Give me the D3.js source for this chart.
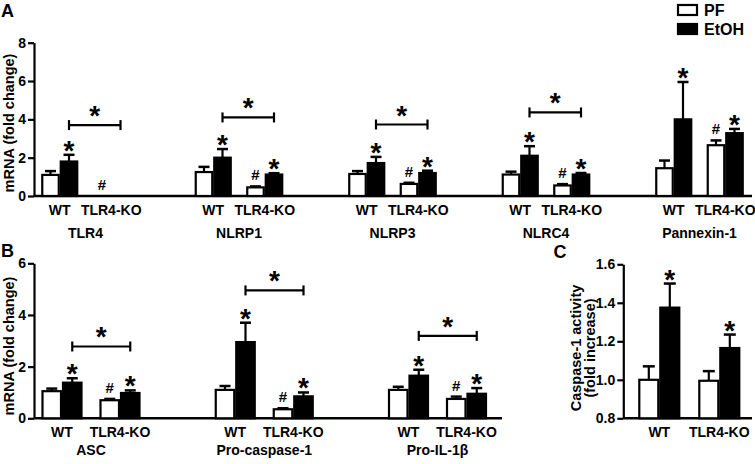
<!DOCTYPE html>
<html><head><meta charset="utf-8">
<script src="https://cdn.jsdelivr.net/npm/d3@7"></script>
<style>
body{margin:0;background:#fff}
svg text{font-family:"Liberation Sans",Arial,sans-serif;font-weight:bold;fill:#000}
</style>
</head><body>
<svg id="chart" width="755" height="464"></svg>
<script>
// ---------- data ----------
const genotypes = ["WT", "TLR4-KO"];
const treatments = ["PF", "EtOH"];

// Panel A
const genesA = ["TLR4", "NLRP1", "NLRP3", "NLRC4", "Pannexin-1"];
const pfA      = [[1.10, 0.00], [1.25, 0.45], [1.15, 0.63], [1.12, 0.55], [1.45, 2.65]];
const pfErrA   = [[0.20, 0.00], [0.27, 0.05], [0.15, 0.06], [0.15, 0.07], [0.40, 0.25]];
const etohA    = [[1.80, 0.00], [2.00, 1.12], [1.72, 1.20], [2.10, 1.12], [4.00, 3.28]];
const etohErrA = [[0.35, 0.00], [0.45, 0.07], [0.32, 0.12], [0.50, 0.08], [1.95, 0.22]];
const starA    = [[1, 0], [1, 1], [1, 1], [1, 1], [1, 1]];
const hashA    = [[0, 1], [0, 1], [0, 1], [0, 1], [0, 1]];
const bracketA = [3.70, 4.10, 3.73, 4.36, null];
const ticksA   = [0, 2, 4, 6, 8];

// Panel B
const genesB = ["ASC", "Pro-caspase-1", "Pro-IL-1\u03b2"];
const pfB      = [[1.05, 0.70], [1.10, 0.35], [1.10, 0.75]];
const pfErrB   = [[0.10, 0.05], [0.15, 0.04], [0.12, 0.09]];
const etohB    = [[1.38, 0.98], [2.95, 0.85], [1.65, 0.95]];
const etohErrB = [[0.17, 0.10], [0.75, 0.15], [0.23, 0.22]];
const starB    = [[1, 1], [1, 1], [1, 1]];
const hashB    = [[0, 1], [0, 1], [0, 1]];
const bracketB = [2.78, 4.95, 3.19];
const ticksB   = [0, 2, 4, 6];

// Panel C
const pfC      = [1.00, 0.995];
const pfErrC   = [0.07, 0.05];
const etohC    = [1.375, 1.165];
const etohErrC = [0.125, 0.07];
const starC    = [1, 1];
const ticksC   = [0.8, 1.0, 1.2, 1.4, 1.6];

const svg = d3.select("#chart");
const FONT = "'Liberation Sans', Arial, sans-serif";
const FS_STAR = 28, FS_HASH = 15, FS_LAB = 14, FS_TITLE = 14.5, FS_TICK = 14;

// glyph metrics via canvas (to sit glyph bottoms exactly above marks)
const ctx = document.createElement("canvas").getContext("2d");
function glyphBottom(ch, fs) {
  ctx.font = `bold ${fs}px ${FONT}`;
  return ctx.measureText(ch).actualBoundingBoxDescent; // + below baseline, - above
}
const starDesc = glyphBottom("*", FS_STAR);
const hashDesc = glyphBottom("#", FS_HASH);

function star(g, x, yBottom) {
  g.append("text").attr("x", x).attr("y", yBottom - starDesc)
    .attr("text-anchor", "middle").attr("font-size", FS_STAR).text("*");
}
function hash(g, x, yBottom) {
  g.append("text").attr("x", x).attr("y", yBottom - hashDesc)
    .attr("text-anchor", "middle").attr("font-size", FS_HASH).text("#");
}

function yAxis(g, y, x0, ticks, fmt) {
  const ax = g.append("g").attr("transform", `translate(${x0},0)`)
    .call(d3.axisLeft(y).tickValues(ticks).tickSize(6).tickSizeOuter(0).tickPadding(2).tickFormat(fmt));
  ax.select(".domain").attr("stroke", "#000").attr("stroke-width", 2.2);
  ax.selectAll(".tick line").attr("stroke", "#000").attr("stroke-width", 2.2);
  ax.selectAll(".tick text").attr("font-size", FS_TICK).attr("font-family", null).attr("fill", "#000");
}

function barPanel(cfg) {
  const g = svg.append("g");
  const y = d3.scaleLinear().domain(cfg.yDomain).range(cfg.yRange);
  const xGene = d3.scaleBand().domain(cfg.genes).range(cfg.geneRange);
  const xGeno = d3.scaleBand().domain(genotypes).range([0, cfg.genoWidth]);
  const xT = d3.scaleBand().domain(treatments).range([-cfg.barW, cfg.barW]);
  const center = (gi, ji) => xGene(cfg.genes[gi]) + xGeno(genotypes[ji]) + xGeno.bandwidth() / 2;

  g.append("line").attr("x1", cfg.axisX).attr("x2", cfg.axisEnd)
    .attr("y1", y(cfg.yDomain[0])).attr("y2", y(cfg.yDomain[0]))
    .attr("stroke", "#000").attr("stroke-width", 2.5);

  cfg.genes.forEach((gene, gi) => {
    genotypes.forEach((geno, ji) => {
      const c = center(gi, ji);
      const vals = { PF: [cfg.pf[gi][ji], cfg.pfErr[gi][ji]], EtOH: [cfg.etoh[gi][ji], cfg.etohErr[gi][ji]] };
      treatments.forEach(t => {
        const [v, e] = vals[t];
        const bx = c + xT(t), bw = xT.bandwidth(), bc = bx + bw / 2;
        if (v > 0) {
          if (e > 0) {
            g.append("line").attr("x1", bc).attr("x2", bc).attr("y1", y(v)).attr("y2", y(v + e))
              .attr("stroke", "#000").attr("stroke-width", 2.2);
            g.append("line").attr("x1", bc - 5.5).attr("x2", bc + 5.5).attr("y1", y(v + e)).attr("y2", y(v + e))
              .attr("stroke", "#000").attr("stroke-width", 2.5);
          }
          g.append("rect").attr("x", bx + 1).attr("width", bw - 2)
            .attr("y", y(v)).attr("height", y(cfg.yDomain[0]) - y(v))
            .attr("fill", t === "PF" ? "#fff" : "#000").attr("stroke", "#000").attr("stroke-width", 2.2);
        }
        const top = y(v + e);
        if (t === "EtOH" && cfg.star[gi][ji]) star(g, bc, top - 3);
        if (t === "PF" && cfg.hash[gi][ji]) hash(g, bc, top - 6);
      });
      g.append("text").attr("x", c).attr("y", cfg.labelY).attr("text-anchor", "middle")
        .attr("font-size", FS_LAB).text(geno);
    });
    const mid = (center(gi, 0) + center(gi, 1)) / 2;
    g.append("text").attr("x", mid).attr("y", cfg.geneY).attr("text-anchor", "middle")
      .attr("font-size", FS_LAB).text(gene);
    const b = cfg.bracket[gi];
    if (b != null) {
      const x1 = center(gi, 0) + xT("EtOH") + xT.bandwidth() / 2;
      const x2 = center(gi, 1) + xT("EtOH") + xT.bandwidth() / 2;
      const by = y(b);
      g.append("line").attr("x1", x1).attr("x2", x2).attr("y1", by).attr("y2", by).attr("stroke", "#000").attr("stroke-width", 2.2);
      [x1, x2].forEach(xx => g.append("line").attr("x1", xx).attr("x2", xx).attr("y1", by - 5).attr("y2", by + 5)
        .attr("stroke", "#000").attr("stroke-width", 2.2));
      star(g, (x1 + x2) / 2, by - 8);
    }
  });

  yAxis(g, y, cfg.axisX, cfg.ticks, d3.format("d"));
  g.append("text").attr("transform", `translate(${cfg.titleX},${cfg.titleY}) rotate(-90)`)
    .attr("text-anchor", "middle").attr("font-size", FS_TITLE).text("mRNA (fold change)");
  g.append("text").attr("x", 1).attr("y", cfg.letterY).attr("font-size", 18).text(cfg.letter);
}

barPanel({
  genes: genesA, pf: pfA, pfErr: pfErrA, etoh: etohA, etohErr: etohErrA,
  star: starA, hash: hashA, bracket: bracketA, ticks: ticksA,
  yDomain: [0, 8], yRange: [196, 42.7], geneRange: [34, 801.5], genoWidth: 103, barW: 18.5,
  axisX: 34, axisEnd: 752, labelY: 215, geneY: 238, titleX: 14, titleY: 123, letter: "A", letterY: 17
});

barPanel({
  genes: genesB, pf: pfB, pfErr: pfErrB, etoh: etohB, etohErr: etohErrB,
  star: starB, hash: hashB, bracket: bracketB, ticks: ticksB,
  yDomain: [0, 6], yRange: [418.3, 263.3], geneRange: [33, 552.75], genoWidth: 116, barW: 20.5,
  axisX: 34, axisEnd: 502, labelY: 437, geneY: 455, titleX: 14, titleY: 346, letter: "B", letterY: 257
});

// Panel C
(function () {
  const g = svg.append("g");
  const y = d3.scaleLinear().domain([0.8, 1.6]).range([418.3, 264.3]);
  const x = d3.scaleBand().domain(genotypes).range([629.3, 749.3]);
  const xT = d3.scaleBand().domain(treatments).range([-21, 21]);
  g.append("line").attr("x1", 623.3).attr("x2", 752).attr("y1", y(0.8)).attr("y2", y(0.8))
    .attr("stroke", "#000").attr("stroke-width", 2.5);
  genotypes.forEach((geno, j) => {
    const c = x(geno) + x.bandwidth() / 2;
    const vals = { PF: [pfC[j], pfErrC[j]], EtOH: [etohC[j], etohErrC[j]] };
    treatments.forEach(t => {
      const [v, e] = vals[t];
      const bx = c + xT(t), bw = xT.bandwidth(), bc = bx + bw / 2;
      g.append("line").attr("x1", bc).attr("x2", bc).attr("y1", y(v)).attr("y2", y(v + e))
        .attr("stroke", "#000").attr("stroke-width", 2.2);
      g.append("line").attr("x1", bc - 6).attr("x2", bc + 6).attr("y1", y(v + e)).attr("y2", y(v + e))
        .attr("stroke", "#000").attr("stroke-width", 2.5);
      g.append("rect").attr("x", bx + 1).attr("width", bw - 2).attr("y", y(v)).attr("height", y(0.8) - y(v))
        .attr("fill", t === "PF" ? "#fff" : "#000").attr("stroke", "#000").attr("stroke-width", 2.2);
      if (t === "EtOH" && starC[j]) star(g, bc, y(v + e) - 3);
    });
    g.append("text").attr("x", c).attr("y", 437).attr("text-anchor", "middle").attr("font-size", FS_LAB).text(geno);
  });
  yAxis(g, y, 623.3, ticksC, d3.format(".1f"));
  g.append("text").attr("transform", "translate(581,348) rotate(-90)").attr("text-anchor", "middle")
    .attr("font-size", FS_TITLE).text("Caspase-1 activity");
  g.append("text").attr("transform", "translate(595,348) rotate(-90)").attr("text-anchor", "middle")
    .attr("font-size", FS_TITLE).text("(fold increase)");
  g.append("text").attr("x", 560).attr("y", 258).attr("text-anchor", "middle").attr("font-size", 18).text("C");
})();

// Legend
const leg = svg.append("g");
treatments.forEach((t, i) => {
  const yy = [5, 24][i];
  leg.append("rect").attr("x", 678).attr("y", yy).attr("width", 19).attr("height", 10)
    .attr("fill", t === "PF" ? "#fff" : "#000").attr("stroke", "#000").attr("stroke-width", 2.2);
  leg.append("text").attr("x", 704).attr("y", yy + 11).attr("font-size", 16).text(t);
});
</script>
</body></html>
